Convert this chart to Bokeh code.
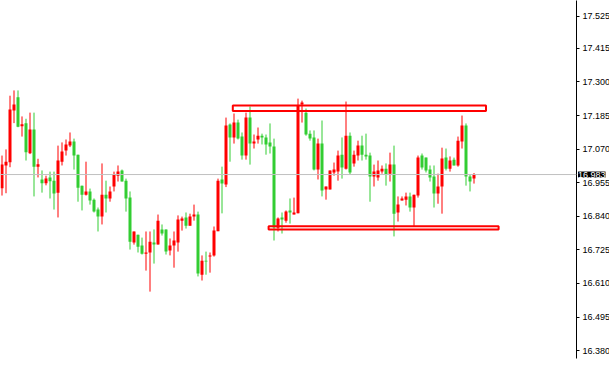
from bokeh.plotting import figure
from bokeh.models import Range1d, FixedTicker, PrintfTickFormatter, LinearAxis, Span, Label, ColumnDataSource
from bokeh.embed import file_html
from bokeh.resources import INLINE

# OHLC values (one candle per bar, left to right)
opens = [16.936, 17.014, 17.025, 17.202, 17.248, 17.148, 17.159, 17.056, 17.137, 17.010,
         16.966, 16.953, 16.973, 16.962, 16.921, 17.027, 17.065, 17.082, 17.096, 17.051,
         16.945, 16.914, 16.925, 16.897, 16.863, 16.839, 16.914, 16.901, 16.942, 16.979,
         16.997, 16.962, 16.904, 16.750, 16.777, 16.740, 16.712, 16.716, 16.750, 16.743,
         16.795, 16.795, 16.723, 16.740, 16.750, 16.825, 16.836, 16.808, 16.839, 16.846,
         16.640, 16.688, 16.702, 16.706, 16.789, 16.966, 16.949, 17.154, 17.110, 17.161,
         17.113, 17.048, 17.178, 17.089, 17.103, 17.116, 17.110, 17.093, 17.079, 16.801,
         16.836, 16.825, 16.860, 16.846, 16.850, 17.223, 17.195, 17.123, 17.110, 17.000,
         17.089, 16.932, 16.932, 16.990, 16.993, 17.051, 17.003, 17.116, 17.021, 17.048,
         17.082, 17.051, 17.048, 16.976, 16.973, 16.993, 17.003, 16.986, 17.017, 16.853,
         16.894, 16.897, 16.908, 16.870, 16.911, 17.048, 17.041, 17.000, 16.976, 16.918,
         16.942, 17.041, 17.003, 17.034, 17.014, 17.096, 17.151, 16.976, 16.969]
highs = [17.048, 17.069, 17.253, 17.271, 17.271, 17.182, 17.174, 17.195, 17.195, 17.037,
         16.997, 16.979, 16.993, 16.993, 17.082, 17.093, 17.103, 17.127, 17.106, 17.051,
         16.945, 17.027, 16.935, 16.901, 16.870, 17.021, 16.962, 16.942, 16.993, 17.014,
         17.000, 16.969, 16.925, 16.788, 16.777, 16.767, 16.788, 16.788, 16.795, 16.846,
         16.812, 16.795, 16.764, 16.788, 16.843, 16.839, 16.853, 16.849, 16.880, 16.856,
         16.706, 16.719, 16.716, 16.805, 16.969, 17.010, 17.178, 17.158, 17.192, 17.171,
         17.127, 17.195, 17.216, 17.120, 17.144, 17.123, 17.120, 17.158, 17.106, 16.836,
         16.853, 16.860, 16.901, 16.904, 17.243, 17.236, 17.209, 17.134, 17.134, 17.106,
         17.168, 16.942, 16.997, 17.024, 17.065, 17.110, 17.233, 17.127, 17.065, 17.099,
         17.116, 17.123, 17.058, 17.017, 17.031, 17.014, 17.021, 17.058, 17.082, 16.908,
         16.908, 16.921, 16.921, 16.914, 17.048, 17.055, 17.041, 17.014, 17.014, 16.986,
         17.075, 17.072, 17.045, 17.041, 17.113, 17.185, 17.158, 16.983, 16.988]
lows = [16.911, 16.919, 17.008, 17.159, 17.145, 17.113, 17.031, 17.053, 16.908, 16.973,
        16.921, 16.946, 16.901, 16.863, 16.836, 17.014, 17.048, 17.077, 17.000, 16.890,
        16.860, 16.911, 16.880, 16.853, 16.788, 16.812, 16.853, 16.890, 16.925, 16.959,
        16.959, 16.856, 16.726, 16.743, 16.716, 16.709, 16.654, 16.582, 16.678, 16.743,
        16.774, 16.709, 16.706, 16.664, 16.719, 16.791, 16.798, 16.808, 16.825, 16.634,
        16.620, 16.640, 16.647, 16.702, 16.789, 16.850, 16.940, 17.027, 17.089, 17.103,
        17.034, 17.034, 17.017, 17.072, 17.089, 17.086, 17.051, 17.055, 16.757, 16.788,
        16.781, 16.818, 16.815, 16.846, 16.850, 17.161, 17.116, 17.099, 16.997, 16.966,
        16.908, 16.897, 16.932, 16.979, 16.962, 16.969, 17.000, 16.983, 17.010, 17.031,
        17.031, 17.034, 16.890, 16.942, 16.962, 16.986, 16.945, 16.959, 16.771, 16.822,
        16.894, 16.877, 16.856, 16.805, 16.904, 17.000, 16.990, 16.959, 16.870, 16.883,
        16.849, 16.997, 16.993, 17.014, 17.010, 17.072, 16.945, 16.925, 16.952]
closes = [17.017, 17.027, 17.206, 17.223, 17.147, 17.155, 17.059, 17.137, 17.010, 17.018,
          16.953, 16.969, 16.960, 16.918, 17.031, 17.062, 17.086, 17.096, 17.048, 16.938,
          16.914, 16.925, 16.894, 16.856, 16.839, 16.914, 16.901, 16.925, 16.983, 16.993,
          16.959, 16.901, 16.753, 16.788, 16.736, 16.712, 16.716, 16.753, 16.743, 16.825,
          16.781, 16.719, 16.740, 16.757, 16.829, 16.832, 16.808, 16.839, 16.846, 16.644,
          16.688, 16.685, 16.706, 16.791, 16.962, 16.952, 17.151, 17.110, 17.161, 17.106,
          17.048, 17.178, 17.089, 17.096, 17.116, 17.110, 17.086, 17.079, 16.802, 16.832,
          16.829, 16.856, 16.853, 16.853, 17.219, 17.230, 17.120, 17.106, 17.000, 17.089,
          16.928, 16.942, 16.997, 17.000, 17.048, 17.007, 17.116, 16.990, 17.051, 17.082,
          17.051, 17.045, 16.976, 16.993, 16.997, 17.003, 16.983, 17.017, 16.849, 16.880,
          16.901, 16.908, 16.870, 16.914, 17.041, 17.007, 16.997, 16.973, 16.918, 16.942,
          17.038, 17.003, 17.031, 17.014, 17.099, 17.151, 16.976, 16.959, 16.983]

last_price = 16.983
price_ticks = [16.380, 16.495, 16.610, 16.725, 16.840, 16.955, 17.070, 17.185, 17.300, 17.415, 17.525]

# red boxes drawn on the chart (bar index / price)
zone_left = [57.7, 66.65]
zone_right = [121.0, 124.15]
zone_top = [17.219, 16.806]
zone_bottom = [17.201, 16.795]

RED = "#ff0000"
GREEN = "#32cd32"

n = len(opens)
idx = list(range(n))
colors = [RED if c >= o else GREEN for o, c in zip(opens, closes)]
body_top = [max(o, c) for o, c in zip(opens, closes)]
body_bot = [min(o, c) for o, c in zip(opens, closes)]
src = ColumnDataSource(dict(x=idx, o=opens, h=highs, l=lows, c=closes,
                            top=body_top, bottom=body_bot, color=colors))

FW = 576
FH = 358
PX_PER_UNIT = 292.0
y_top = 17.579
x0 = -0.375
x1 = x0 + FW / 4.0
p = figure(frame_width=FW, frame_height=FH, output_backend="svg", toolbar_location=None,
           x_range=Range1d(x0, x1), y_range=Range1d(y_top - FH / PX_PER_UNIT, y_top),
           min_border=0, min_border_right=0, y_axis_location=None, x_axis_location=None)
p.xgrid.visible = False
p.ygrid.visible = False
p.outline_line_color = None
p.background_fill_color = "white"
p.border_fill_color = "white"

ax = LinearAxis(ticker=FixedTicker(ticks=price_ticks),
                formatter=PrintfTickFormatter(format="%.3f"))
ax.axis_line_color = "black"
ax.axis_line_width = 1
ax.major_tick_in = 0
ax.major_tick_out = 3
ax.minor_tick_line_color = None
ax.major_tick_line_color = "black"
ax.major_label_standoff = 3
ax.major_label_text_font = "Liberation Sans"
ax.major_label_text_font_size = "9px"
ax.major_label_text_color = "black"
p.add_layout(ax, "right")

# last-price tag: kept in a side panel (not clipped to the frame), drawn over the price scale
tag = Label(x=x1, y=last_price, x_units="data", y_units="data", x_offset=1.5,
            text=f"{last_price:.3f}", text_color="white",
            text_font="Liberation Sans", text_font_size="9px",
            text_baseline="middle", text_align="left",
            background_fill_color="black", padding=0)
p.add_layout(tag, "below")

p.add_layout(Span(location=last_price, dimension="width", line_color="#c0c0c0", line_width=1))

p.segment(x0="x", y0="h", x1="x", y1="l", source=src, line_color="color", line_width=1)
p.vbar(x="x", width=0.75, top="top", bottom="bottom", source=src,
       fill_color="color", line_color=None)

p.quad(left=zone_left, right=zone_right, top=zone_top, bottom=zone_bottom,
       fill_color=None, line_color=RED, line_width=2)

open("out.html", "w").write(file_html(p, INLINE))
